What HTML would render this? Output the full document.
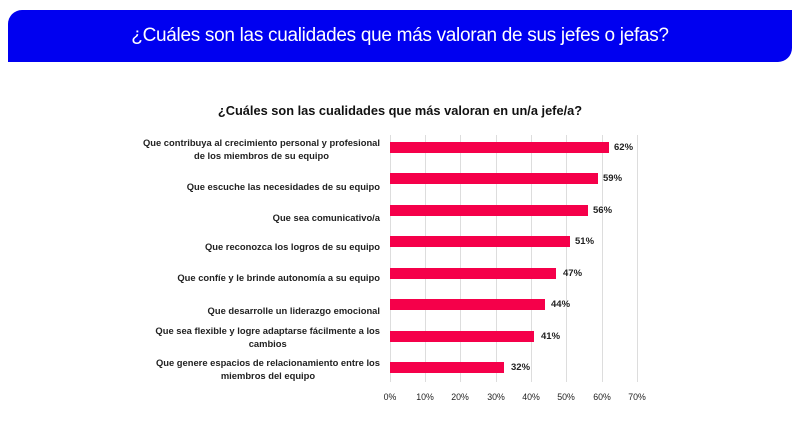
<!DOCTYPE html>
<html><head><meta charset="utf-8"><style>
body{margin:0;width:800px;height:446px;background:#fff;position:relative;overflow:hidden;font-family:"Liberation Sans",sans-serif}
.banner{position:absolute;left:8px;top:10px;width:784px;height:52px;background:#0000f0;border-radius:14px 0 14px 0;color:#fff;font-size:19px;text-align:center;line-height:52px;letter-spacing:-0.3px}
.t{position:absolute;left:0;width:800px;top:103px;text-align:center;font-weight:bold;font-size:12.8px;color:#111}
.l{position:absolute;right:420px;font-size:9.4px;font-weight:bold;color:#222;text-align:center;line-height:12.5px;white-space:nowrap}
.g{position:absolute;top:135px;height:247px;width:1px;background:#ddd}
.b{position:absolute;left:390px;height:11px;background:#f5004a}
.v{position:absolute;font-size:9.5px;font-weight:bold;color:#222}
.x{position:absolute;top:392px;font-size:8.8px;color:#222;width:30px;text-align:center}
</style></head><body>
<div class="banner">¿Cuáles son las cualidades que más valoran de sus jefes o jefas?</div>
<div class="t">¿Cuáles son las cualidades que más valoran en un/a jefe/a?</div>

<div class="g" style="left:390px"></div><div class="g" style="left:425px"></div><div class="g" style="left:460px"></div><div class="g" style="left:496px"></div><div class="g" style="left:531px"></div><div class="g" style="left:566px"></div><div class="g" style="left:602px"></div><div class="g" style="left:637px"></div>

<div class="l" style="top:137px">Que contribuya al crecimiento personal y profesional<br>de los miembros de su equipo</div>
<div class="l" style="top:181px">Que escuche las necesidades de su equipo</div>
<div class="l" style="top:212px">Que sea comunicativo/a</div>
<div class="l" style="top:241px">Que reconozca los logros de su equipo</div>
<div class="l" style="top:272px">Que confíe y le brinde autonomía a su equipo</div>
<div class="l" style="top:305px">Que desarrolle un liderazgo emocional</div>
<div class="l" style="top:325px">Que sea flexible y logre adaptarse fácilmente a los<br>cambios</div>
<div class="l" style="top:357px">Que genere espacios de relacionamiento entre los<br>miembros del equipo</div>

<div class="b" style="top:142px;width:219px"></div><div class="v" style="left:614px;top:142px">62%</div>
<div class="b" style="top:173px;width:208px"></div><div class="v" style="left:603px;top:173px">59%</div>
<div class="b" style="top:205px;width:198px"></div><div class="v" style="left:593px;top:205px">56%</div>
<div class="b" style="top:236px;width:180px"></div><div class="v" style="left:575px;top:236px">51%</div>
<div class="b" style="top:268px;width:166px"></div><div class="v" style="left:563px;top:268px">47%</div>
<div class="b" style="top:299px;width:155px"></div><div class="v" style="left:551px;top:299px">44%</div>
<div class="b" style="top:331px;width:144px"></div><div class="v" style="left:541px;top:331px">41%</div>
<div class="b" style="top:362px;width:114px"></div><div class="v" style="left:511px;top:362px">32%</div>

<div class="x" style="left:375px">0%</div><div class="x" style="left:410px">10%</div><div class="x" style="left:445px">20%</div><div class="x" style="left:481px">30%</div><div class="x" style="left:516px">40%</div><div class="x" style="left:551px">50%</div><div class="x" style="left:587px">60%</div><div class="x" style="left:622px">70%</div>
</body></html>
